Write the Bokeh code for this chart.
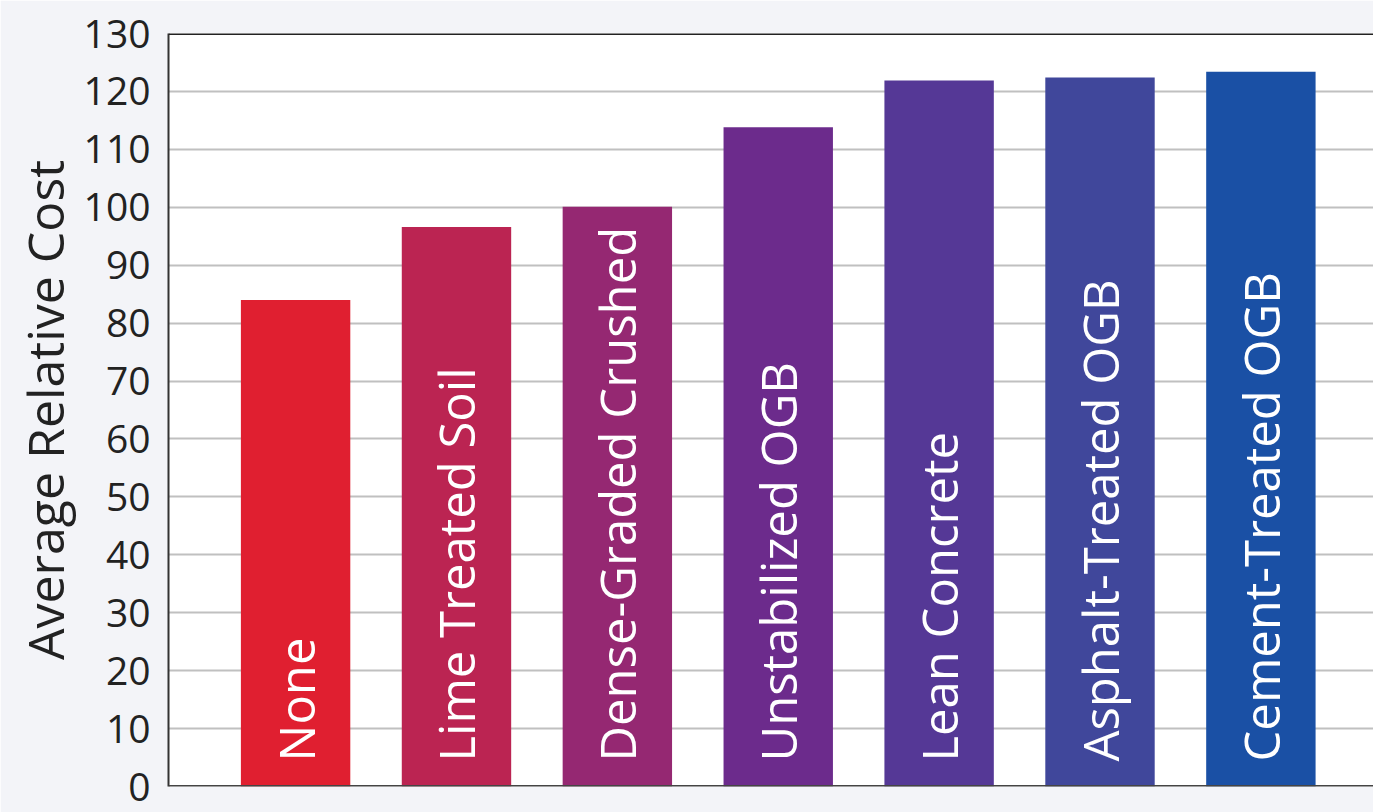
import math
from bokeh.plotting import figure
from bokeh.models import Range1d, Span, FixedTicker, ColumnDataSource
from bokeh.core.properties import value
from bokeh.embed import file_html
from bokeh.resources import INLINE

categories = ["None", "Lime Treated Soil", "Dense-Graded Crushed", "Unstabilized OGB",
              "Lean Concrete", "Asphalt-Treated OGB", "Cement-Treated OGB"]
costs = [84.0, 96.6, 100.1, 113.8, 121.9, 122.4, 123.4]
bar_colors = ["#e01f30", "#bb2452", "#952872", "#6c2b8c", "#553896", "#40479b", "#1a50a5"]
y_ticks = list(range(0, 131, 10))

xs = list(range(len(categories)))
src = ColumnDataSource(dict(x=xs, top=costs, color=bar_colors, label=categories))

p = figure(width=1373, height=812, output_backend="svg", toolbar_location=None,
           x_range=Range1d(-0.79, 6.70), y_range=Range1d(0, 130),
           min_border_left=168, min_border_right=0, min_border_top=33, min_border_bottom=26)

p.background_fill_color = "white"
p.border_fill_color = "#f3f4f8"
p.outline_line_color = None

p.vbar(x="x", top="top", bottom=0, width=0.68, fill_color="color", line_color=None, source=src)

p.text(x="x", y=0, text="label", source=src, angle=math.pi / 2, y_offset=-25,
       text_align="left", text_baseline="middle", text_color="white",
       text_font=value("Open Sans"), text_font_size="49px")

p.xaxis.visible = False
p.xgrid.visible = False

p.yaxis.ticker = FixedTicker(ticks=y_ticks)
p.yaxis.axis_label = "Average Relative Cost"
p.yaxis.axis_label_text_font = "Open Sans"
p.yaxis.axis_label_text_font_size = "50px"
p.yaxis.axis_label_text_font_style = "normal"
p.yaxis.axis_label_text_color = "#222222"
p.yaxis.axis_label_standoff = 2
p.yaxis.major_label_text_font = "Open Sans"
p.yaxis.major_label_text_font_size = "39px"
p.yaxis.major_label_text_color = "#222222"
p.yaxis.major_label_standoff = 12
p.yaxis.major_tick_line_color = None
p.yaxis.minor_tick_line_color = None
p.yaxis.axis_line_color = "#333333"
p.yaxis.axis_line_width = 2

p.ygrid.grid_line_color = "#c0c0c0"
p.ygrid.grid_line_width = 2

p.add_layout(Span(location=130, dimension="width", line_color="#222222", line_width=3))
p.add_layout(Span(location=0, dimension="width", line_color="#444444", line_width=3))

open("out.html", "w").write(file_html(p, INLINE))
